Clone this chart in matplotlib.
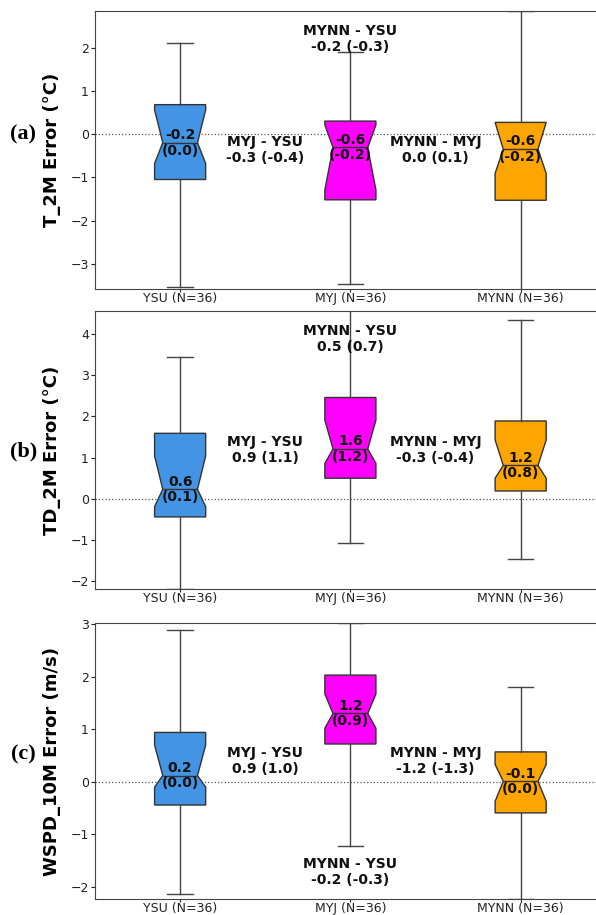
import numpy as np
import matplotlib.pyplot as plt
from matplotlib.path import Path

# schemes and colours
schemes = ['YSU', 'MYJ', 'MYNN']
n_obs = [36, 36, 36]
colors = ['#4394E5', '#FF00FF', '#FFA500']

variables = ['T_2M', 'TD_2M', 'WSPD_10M']
units = ['°C', '°C', 'm/s']
tags = ['(a)', '(b)', '(c)']

# box stats, order YSU, MYJ, MYNN
t2m_q1 = [-1.05, -1.52, -1.53]
t2m_med = [-0.20, -0.31, -0.35]
t2m_q3 = [0.68, 0.30, 0.27]
t2m_cilo = [-0.68, -1.29, -0.91]
t2m_cihi = [0.56, 0.21, 0.27]
t2m_lo = [-3.54, -3.47, -3.80]
t2m_hi = [2.10, 1.90, 2.84]

td2m_q1 = [-0.44, 0.50, 0.19]
td2m_med = [0.23, 1.21, 0.81]
td2m_q3 = [1.59, 2.46, 1.89]
td2m_cilo = [-0.19, 0.86, 0.50]
td2m_cihi = [1.04, 1.91, 1.43]
td2m_lo = [-2.19, -1.07, -1.45]
td2m_hi = [3.45, 4.90, 4.33]

ws_q1 = [-0.44, 0.72, -0.59]
ws_med = [0.12, 1.30, 0.01]
ws_q3 = [0.94, 2.03, 0.57]
ws_cilo = [-0.10, 1.02, -0.37]
ws_cihi = [0.70, 1.67, 0.33]
ws_lo = [-2.14, -1.21, -2.23]
ws_hi = [2.89, 3.02, 1.80]

# mean and median errors written in the boxes
t2m_mean = [-0.2, -0.6, -0.6]
t2m_median = [0.0, -0.2, -0.2]
td2m_mean = [0.6, 1.6, 1.2]
td2m_median = [0.1, 1.2, 0.8]
ws_mean = [0.2, 1.2, -0.1]
ws_median = [0.0, 0.9, 0.0]

# differences: MYJ-YSU, MYNN-YSU, MYNN-MYJ  -> mean (median)
t2m_diff_mean = [-0.3, -0.2, 0.0]
t2m_diff_med = [-0.4, -0.3, 0.1]
td2m_diff_mean = [0.9, 0.5, -0.3]
td2m_diff_med = [1.1, 0.7, -0.4]
ws_diff_mean = [0.9, -0.2, -1.2]
ws_diff_med = [1.0, -0.3, -1.3]

ylims = [(-3.58, 2.845), (-2.19, 4.56), (-2.235, 3.025)]

panels = [
    (t2m_q1, t2m_med, t2m_q3, t2m_cilo, t2m_cihi, t2m_lo, t2m_hi, t2m_mean, t2m_median, t2m_diff_mean, t2m_diff_med),
    (td2m_q1, td2m_med, td2m_q3, td2m_cilo, td2m_cihi, td2m_lo, td2m_hi, td2m_mean, td2m_median, td2m_diff_mean, td2m_diff_med),
    (ws_q1, ws_med, ws_q3, ws_cilo, ws_cihi, ws_lo, ws_hi, ws_mean, ws_median, ws_diff_mean, ws_diff_med),
]

fig = plt.figure(figsize=(5.96, 9.15), dpi=100)
ax_rects = [
    [0.1594, 0.6842, 0.857, 0.3038],
    [0.1594, 0.3563, 0.857, 0.3038],
    [0.1594, 0.0170, 0.857, 0.3024],
]
tag_y = [0.8525, 0.5063, 0.1749]
width = 0.3
waist = 0.34  # half-width of notch waist, as fraction of box width

for i, (q1, med, q3, cilo, cihi, lo, hi, mn, md, dmn, dmd) in enumerate(panels):
    ax = fig.add_axes(ax_rects[i])
    stats = []
    for k in range(3):
        stats.append(dict(q1=q1[k], med=med[k], q3=q3[k], cilo=cilo[k], cihi=cihi[k],
                          whislo=lo[k], whishi=hi[k], fliers=[], label=f'{schemes[k]} (N={n_obs[k]})'))
    pos = [1, 2, 3]
    bp = ax.bxp(stats, positions=pos, widths=width, shownotches=True, patch_artist=True,
                showfliers=False,
                boxprops=dict(edgecolor='#333333', linewidth=1.0),
                whiskerprops=dict(color='#444444', linewidth=1.0),
                capprops=dict(color='#444444', linewidth=1.0),
                medianprops=dict(color='#333333', linewidth=1.0))
    for k, patch in enumerate(bp['boxes']):
        patch.set_facecolor(colors[k])
        # widen the notch waist
        v = np.array(patch.get_path().vertices, dtype=float)
        at_med = np.isclose(v[:, 1], med[k]) & ~np.isclose(np.abs(v[:, 0] - pos[k]), width * 0.5)
        v[at_med, 0] = pos[k] + np.sign(v[at_med, 0] - pos[k]) * width * waist
        patch.set_path(Path(v, closed=True))
        bp['medians'][k].set_xdata([pos[k] - width * waist, pos[k] + width * waist])
        ax.text(pos[k], med[k], f'{mn[k]:.1f}\n({md[k]:.1f})', ha='center', va='center',
                fontsize=10, fontweight='bold', color='#111111', linespacing=1.15)

    ax.axhline(0, color='#555555', linestyle=':', linewidth=0.9, zorder=0)
    ax.set_xlim(0.5, 3.5)
    ax.set_ylim(*ylims[i])
    ax.set_yticks(np.arange(np.ceil(ylims[i][0]), np.floor(ylims[i][1]) + 1))
    ax.tick_params(axis='both', labelsize=9, colors='#222222', length=3, pad=1.5)
    ax.tick_params(axis='x', length=2, pad=0)
    for s in ax.spines.values():
        s.set_color('#444444')
    ax.set_ylabel(f'{variables[i]} Error ({units[i]})', fontsize=13, fontweight='bold')
    ax.yaxis.set_label_coords(-0.0665, 0.5)

    tx = dict(ha='center', va='center', fontsize=10, fontweight='bold', color='#111111',
              linespacing=1.15, transform=ax.get_xaxis_transform())
    ax.text(1.5, 0.5, f'MYJ - YSU\n{dmn[0]:.1f} ({dmd[0]:.1f})', **tx)
    ax.text(2.0, 0.9 if i < 2 else 0.1, f'MYNN - YSU\n{dmn[1]:.1f} ({dmd[1]:.1f})', **tx)
    ax.text(2.5, 0.5, f'MYNN - MYJ\n{dmn[2]:.1f} ({dmd[2]:.1f})', **tx)

    fig.text(0.0394, tag_y[i], tags[i], ha='center', va='center', fontsize=16,
             fontweight='bold', family='Liberation Serif')

fig.savefig('out.png', dpi=100)
